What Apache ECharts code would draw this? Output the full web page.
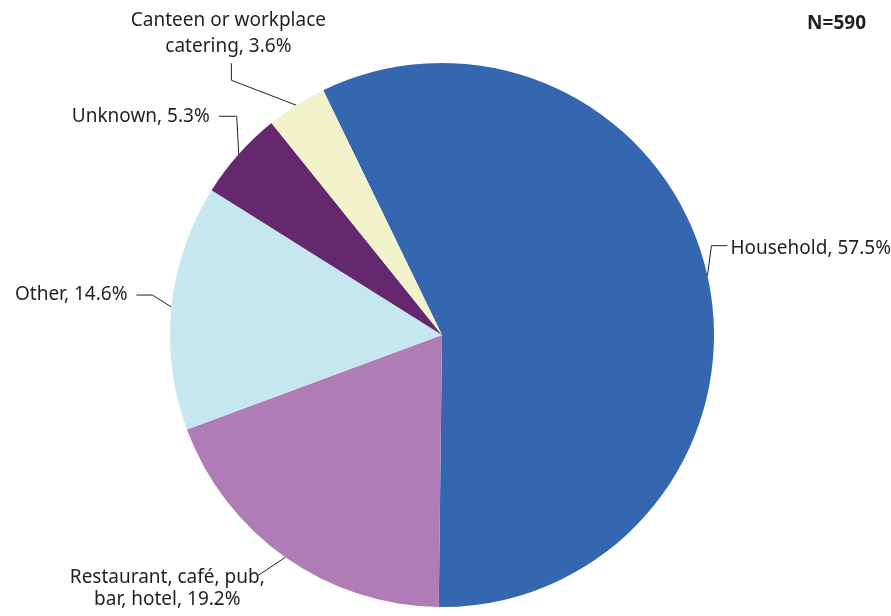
<!DOCTYPE html>
<html>
<head>
<meta charset="utf-8">
<script src="https://cdn.jsdelivr.net/npm/echarts@6/dist/echarts.min.js"></script>
<style>
  html, body { margin: 0; padding: 0; background: #ffffff; }
  #chart { width: 891px; height: 616px; }
</style>
</head>
<body>
<div id="chart"></div>
<script>
// Setting of foodborne outbreaks, share of N=590
const categories = ['Household', 'Restaurant, café, pub, bar, hotel', 'Other', 'Unknown', 'Canteen or workplace catering'];
const labelTexts = ['Household', 'Restaurant, café, pub,\nbar, hotel', 'Other', 'Unknown', 'Canteen or workplace\ncatering'];
const shares = [57.5, 19.2, 14.6, 5.3, 3.6];
const sliceColors = ['#3567b0', '#b07cb5', '#c6e7ef', '#65286f', '#f2f3cb'];
const totalN = 'N=590';

// Leader-line routing for each label, relative to the slice's outer edge point:
// [bendDx, bendDy, endDx, endDy, labelDx, labelDy, align]
const leaders = [
  [4, -30, 20, -30, 3, 3, 'left'],
  [-27, 18, -27, 18, -91, 13, 'center'],
  [-19, -12, -35, -12, -9, 0, 'right'],
  [-2, -38, -20, -38, -9, 0, 'right'],
  [-65, -25, -65, -42, -3, -30, 'center']
];
const lineHeights = [24, 22, 24, 24, 26];

const cx = 442, cy = 335, radius = 272;
const startAngle = 115.9;
const total = shares.reduce((a, b) => a + b, 0);

// Outer edge point at the middle angle of slice i
function edgePoint(i) {
  let before = 0;
  for (let k = 0; k < i; k++) before += shares[k];
  const mid = startAngle - (before + shares[i] / 2) / total * 360;
  const rad = mid * Math.PI / 180;
  return [cx + radius * Math.cos(rad), cy - radius * Math.sin(rad)];
}

const chart = echarts.init(document.getElementById('chart'), null, { renderer: 'canvas' });

const option = {
  backgroundColor: '#ffffff',
  animation: false,
  title: {
    text: totalN,
    right: 20,
    top: 9,
    textStyle: { fontFamily: 'Noto Sans', fontSize: 19, fontWeight: 'bold', color: '#231f20' }
  },
  series: [{
    type: 'pie',
    center: [cx, cy],
    radius: radius,
    startAngle: startAngle,
    clockwise: true,
    avoidLabelOverlap: false,
    itemStyle: { borderWidth: 0 },
    label: {
      show: true,
      position: 'outside',
      fontFamily: 'Noto Sans',
      fontSize: 19,
      color: '#231f20',
      formatter: p => labelTexts[p.dataIndex] + ', ' + shares[p.dataIndex].toFixed(1) + '%'
    },
    labelLine: {
      show: true,
      lineStyle: { color: '#231f20', width: 1 }
    },
    labelLayout: function (params) {
      const i = params.dataIndex;
      const e = edgePoint(i);
      const L = leaders[i];
      const bend = [e[0] + L[0], e[1] + L[1]];
      const end = [e[0] + L[2], e[1] + L[3]];
      return {
        x: end[0] + L[4],
        y: end[1] + L[5],
        align: L[6],
        verticalAlign: 'middle',
        labelLinePoints: [e, bend, end]
      };
    },
    data: categories.map((name, i) => ({
      name: name,
      value: shares[i],
      itemStyle: { color: sliceColors[i] },
      label: { lineHeight: lineHeights[i], align: leaders[i][6] }
    }))
  }]
};

chart.setOption(option);
</script>
</body>
</html>
